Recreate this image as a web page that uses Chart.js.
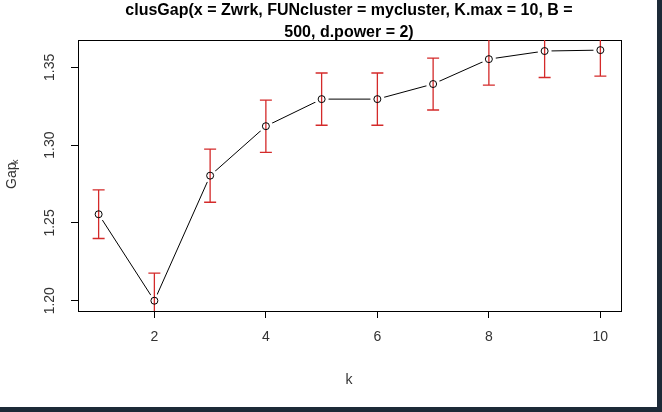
<!DOCTYPE html>
<html>
<head>
<meta charset="utf-8">
<script src="https://cdn.jsdelivr.net/npm/chart.js@4"></script>
<style>
  html, body { margin: 0; padding: 0; background: #1d2a38; }
  #wrap { width: 657px; height: 407px; background: #fff; }
</style>
</head>
<body>
<div id="wrap"><canvas id="c"></canvas></div>
<script>
const ks = [1, 2, 3, 4, 5, 6, 7, 8, 9, 10];
const gap = [1.2556, 1.2000, 1.2804, 1.3122, 1.3296, 1.3296, 1.3393, 1.3553, 1.3605, 1.3611];
const se = [0.0156, 0.0178, 0.0171, 0.0168, 0.0168, 0.0168, 0.0167, 0.0167, 0.0170, 0.0167];
const yTicks = [1.20, 1.25, 1.30, 1.35];
const titleLines = ["clusGap(x = Zwrk, FUNcluster = mycluster, K.max = 10, B =", "500, d.power = 2)"];

const pts = () => ks.map((k, i) => ({ x: k, y: gap[i] }));

// red error bars, R-style y tick labels, titles
const extras = {
  id: "extras",
  afterDatasetsDraw(chart) {
    const { ctx, chartArea: a, scales: { x, y } } = chart;
    ctx.save();
    ctx.beginPath();
    ctx.rect(a.left, a.top, a.right - a.left, a.bottom - a.top);
    ctx.clip();
    ctx.strokeStyle = "#d42a2a";
    ctx.lineWidth = 1.3;
    ks.forEach((k, i) => {
      const px = x.getPixelForValue(k);
      const hi = y.getPixelForValue(gap[i] + se[i]);
      const lo = y.getPixelForValue(gap[i] - se[i]);
      ctx.beginPath();
      ctx.moveTo(px, hi); ctx.lineTo(px, lo);
      ctx.moveTo(px - 6, hi); ctx.lineTo(px + 6, hi);
      ctx.moveTo(px - 6, lo); ctx.lineTo(px + 6, lo);
      ctx.stroke();
    });
    // open circles on top
    ctx.strokeStyle = "#000";
    ctx.lineWidth = 1;
    ks.forEach((k, i) => {
      ctx.beginPath();
      ctx.arc(x.getPixelForValue(k), y.getPixelForValue(gap[i]), 3.5, 0, Math.PI * 2);
      ctx.stroke();
    });
    ctx.restore();

    ctx.save();
    ctx.fillStyle = "#333";
    ctx.font = "14px Arial, 'Liberation Sans'";
    ctx.textAlign = "center";
    ctx.textBaseline = "middle";
    yTicks.forEach(t => {
      ctx.save();
      ctx.translate(50, y.getPixelForValue(t));
      ctx.rotate(-Math.PI / 2);
      ctx.fillText(t.toFixed(2), 0, 0);
      ctx.restore();
    });
    ctx.save();
    ctx.translate(12, 175);
    ctx.rotate(-Math.PI / 2);
    ctx.textAlign = "left";
    ctx.fillText("Gap", -14, 0);
    ctx.font = "9px Arial, 'Liberation Sans'";
    ctx.fillText("k", 11, 4);
    ctx.restore();
    ctx.fillText("k", 349, 380);
    ctx.fillStyle = "#000";
    ctx.font = "bold 16px Arial, 'Liberation Sans'";
    ctx.fillText(titleLines[0], 349, 11);
    ctx.fillText(titleLines[1], 349, 33);
    ctx.restore();
  }
};

new Chart(document.getElementById("c"), {
  type: "line",
  data: {
    datasets: [
      { data: pts(), borderColor: "#000", borderWidth: 1, pointRadius: 7, pointHoverRadius: 7,
        pointBackgroundColor: "#fff", pointBorderWidth: 0, pointBorderColor: "rgba(0,0,0,0)", fill: false }
    ]
  },
  options: {
    responsive: true,
    maintainAspectRatio: false,
    animation: false,
    layout: { padding: { top: 40, right: 36, left: 0, bottom: 0 } },
    plugins: { legend: { display: false }, tooltip: { enabled: false } },
    scales: {
      x: {
        type: "linear", min: 0.63, max: 10.37,
        afterFit: s => { s.height = 96; },
        border: { color: "#000", width: 1 },
        grid: { drawOnChartArea: false, tickLength: 7, color: "#000" },
        ticks: { padding: 11, color: "#333", font: { size: 14, family: "Arial, 'Liberation Sans'" },
                 autoSkip: false, maxRotation: 0 },
        afterBuildTicks: s => { s.ticks = [2, 4, 6, 8, 10].map(v => ({ value: v })); }
      },
      y: {
        min: 1.1934, max: 1.3676,
        afterFit: s => { s.width = 78; },
        border: { color: "#000", width: 1 },
        grid: { drawOnChartArea: false, tickLength: 7, color: "#000" },
        ticks: { display: true, color: "rgba(0,0,0,0)", font: { size: 1 } },
        afterBuildTicks: s => { s.ticks = yTicks.map(v => ({ value: v })); }
      },
      x2: { type: "linear", position: "top", display: true, afterFit: s => { s.height = 0; },
            grid: { display: false }, ticks: { display: false }, border: { color: "#000" } },
      y2: { position: "right", display: true, afterFit: s => { s.width = 0; },
            grid: { display: false }, ticks: { display: false }, border: { color: "#000" } }
    }
  },
  plugins: [extras]
});
</script>
</body>
</html>
